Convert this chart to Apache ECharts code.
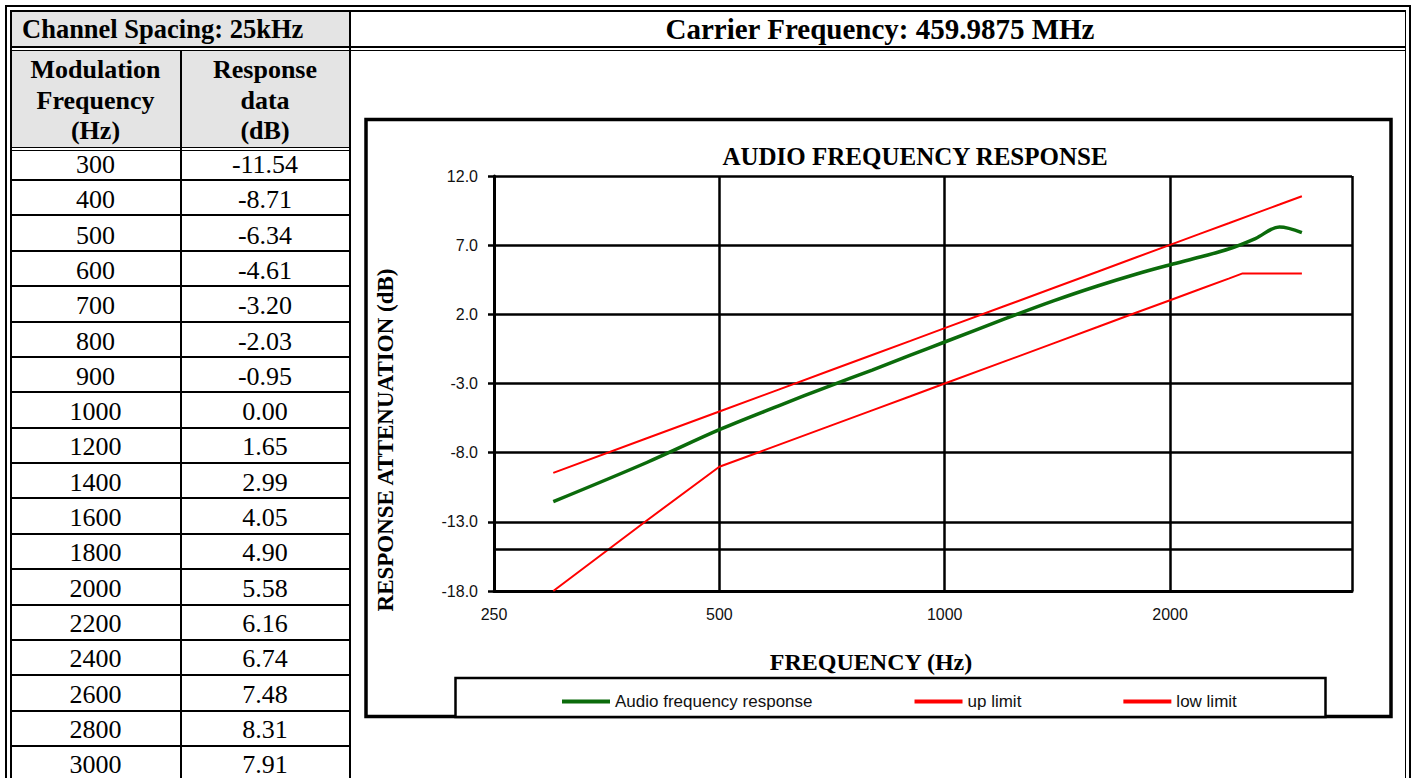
<!DOCTYPE html>
<html><head><meta charset="utf-8">
<script src="https://cdn.jsdelivr.net/npm/echarts@6/dist/echarts.min.js"></script>
<style>
html,body{margin:0;padding:0;background:#fff;width:1416px;height:778px;overflow:hidden;}
#chart{position:absolute;left:0;top:0;width:1416px;height:778px;}
#tbl{position:absolute;left:0;top:0;width:1416px;height:778px;pointer-events:none;}
.ln{position:absolute;background:#000;}
.fill{position:absolute;background:#e4e4e4;}
.t{position:absolute;font-family:"Liberation Serif","Times New Roman",serif;color:#000;white-space:nowrap;line-height:1;}
</style></head>
<body><div id="chart"></div><div id="tbl"></div>
<script>
// ---- data ----
const frequencies = [300,400,500,600,700,800,900,1000,1200,1400,1600,1800,2000,2200,2400,2600,2800,3000];
const responseDb = [-11.54,-8.71,-6.34,-4.61,-3.20,-2.03,-0.95,0.00,1.65,2.99,4.05,4.90,5.58,6.16,6.74,7.48,8.31,7.91];
const upLimitFreqs = [300,400,500,600,700,800,900,1000,1200,1400,1600,1800,2000,2200,2400,2600,2800,3000];
const upLimitDb = [-9.46,-6.96,-5.02,-3.44,-2.10,-0.94,0.08,1.00,2.58,3.92,5.08,6.11,7.02,7.85,8.60,9.30,9.94,10.54];
const lowLimitFreqs = [300,400,500,600,700,800,900,1000,1200,1400,1600,1800,2000,2200,2400,2500,2600,2800,3000];
const lowLimitDb = [-18.0,-12.9,-9.02,-7.44,-6.10,-4.94,-3.92,-3.00,-1.42,-0.08,1.08,2.11,3.02,3.85,4.60,4.96,4.96,4.96,4.96];
const xTickLabels = [250,500,1000,2000];
const xGridValues = [250,500,1000,2000,3500];
const yTickLabels = [-18,-13,-8,-3,2,7,12];
const extraGridDb = [-15];
const seriesNames = ['Audio frequency response','up limit','low limit'];

// ---- table (HTML) ----
const T = document.getElementById('tbl');
function box(cls,x,y,w,h){const d=document.createElement('div');d.className=cls;d.style.left=x+'px';d.style.top=y+'px';d.style.width=w+'px';d.style.height=h+'px';T.appendChild(d);return d;}
function text(s,x,y,size,bold,align){const d=document.createElement('div');d.className='t';d.textContent=s;d.style.left=x+'px';d.style.top=y+'px';d.style.fontSize=size+'px';d.style.fontWeight=bold?'bold':'normal';d.style.transform=align==='left'?'translate(0,-50%)':'translate(-50%,-50%)';T.appendChild(d);}

box('fill',11,12,338,35);
box('fill',11,51,338,96);
// outer double frame
box('ln',5,5,1406,2); box('ln',5,5,2,773); box('ln',1409,5,2,773);
box('ln',10,10,1396,1.5); box('ln',10,10,1.5,768); box('ln',1404.5,10,1.5,768);
// row1 bottom double
box('ln',10,46,1396,1.5); box('ln',10,49.5,1396,1.5);
// column separators
box('ln',348.5,10,2,768);
box('ln',179.5,50,2,728);
// header bottom double
box('ln',10,146.5,340,1.5); box('ln',10,149.5,340,1.5);
for(let i=1;i<frequencies.length;i++){const y=180+(i-1)*35.38;box('ln',10,y-1,340,2);}

text('Channel Spacing: 25kHz',22,29,26.5,true,'left');
text('Carrier Frequency: 459.9875 MHz',880,29,29,true);
['Modulation','Frequency','(Hz)'].forEach((s,k)=>text(s,95.5,70+k*30.5,26,true));
['Response','data','(dB)'].forEach((s,k)=>text(s,265,70+k*30.5,26,true));
frequencies.forEach((f,i)=>{
  const y=165+i*35.3;
  text(String(f),95.5,y,26,false);
  text(responseDb[i].toFixed(2),265,y,26,false);
});

// ---- chart ----
const chart = echarts.init(document.getElementById('chart'), null, {renderer:'svg'});
const pair=(xs,ys)=>xs.map((x,i)=>[x,ys[i]]);
const labelFont={fontFamily:'Liberation Sans',fontSize:16,color:'#111'};
chart.setOption({
  animation:false,
  grid:{left:494,right:64,top:176,bottom:187,containLabel:false},
  xAxis:{type:'log',logBase:2,min:250,max:3500,
    axisLine:{show:true,onZero:false,lineStyle:{color:'#000',width:3}},
    axisTick:{show:false,customValues:xGridValues},
    axisLabel:Object.assign({customValues:xTickLabels,margin:15,formatter:v=>String(Math.round(v))},labelFont),
    splitLine:{show:true,lineStyle:{color:'#000',width:2.5}}},
  yAxis:{type:'value',min:-18,max:12,
    axisLine:{show:true,onZero:false,lineStyle:{color:'#000',width:3}},
    axisTick:{show:true,length:6,customValues:yTickLabels,lineStyle:{color:'#000',width:2.5}},
    axisLabel:Object.assign({customValues:yTickLabels,margin:16,formatter:v=>Number(v).toFixed(1)},labelFont),
    splitLine:{show:true,lineStyle:{color:'#000',width:2.5}}},
  legend:{left:557,top:688,itemWidth:48,itemHeight:4,itemGap:102,icon:'rect',
    textStyle:{fontFamily:'Liberation Sans',fontSize:17,color:'#111'},
    data:seriesNames},
  graphic:[
    {type:'rect',z:-10,shape:{x:366,y:119.5,width:1025,height:597},style:{fill:'none',stroke:'#000',lineWidth:3.5}},
    {type:'rect',z:-10,shape:{x:455.5,y:678,width:870,height:39},style:{fill:'#fff',stroke:'#000',lineWidth:2.5}},
    {type:'text',x:915,y:156,style:{text:'AUDIO FREQUENCY RESPONSE',font:'bold 25px "Liberation Serif"',fill:'#000',align:'center',verticalAlign:'middle'}},
    {type:'text',x:871,y:662,style:{text:'FREQUENCY (Hz)',font:'bold 24px "Liberation Serif"',fill:'#000',align:'center',verticalAlign:'middle'}},
    {type:'text',x:385,y:440,rotation:Math.PI/2,style:{text:'RESPONSE ATTENUATION (dB)',font:'bold 23px "Liberation Serif"',fill:'#000',align:'center',verticalAlign:'middle'}}
  ],
  series:[
    {name:seriesNames[0],type:'line',data:pair(frequencies,responseDb),smooth:0.35,symbol:'none',z:4,
      lineStyle:{color:'#0b6b0b',width:3.5},itemStyle:{color:'#0b6b0b'}},
    {name:seriesNames[1],type:'line',data:pair(upLimitFreqs,upLimitDb),symbol:'none',z:3,
      lineStyle:{color:'#ff0000',width:2},itemStyle:{color:'#ff0000'}},
    {name:seriesNames[2],type:'line',data:pair(lowLimitFreqs,lowLimitDb),symbol:'none',z:3,
      lineStyle:{color:'#ff0000',width:2},itemStyle:{color:'#ff0000'},
      markLine:{silent:true,symbol:'none',label:{show:false},animation:false,
        lineStyle:{color:'#000',width:2.5,type:'solid'},data:extraGridDb.map(v=>({yAxis:v}))}}
  ]
});
</script></body></html>
